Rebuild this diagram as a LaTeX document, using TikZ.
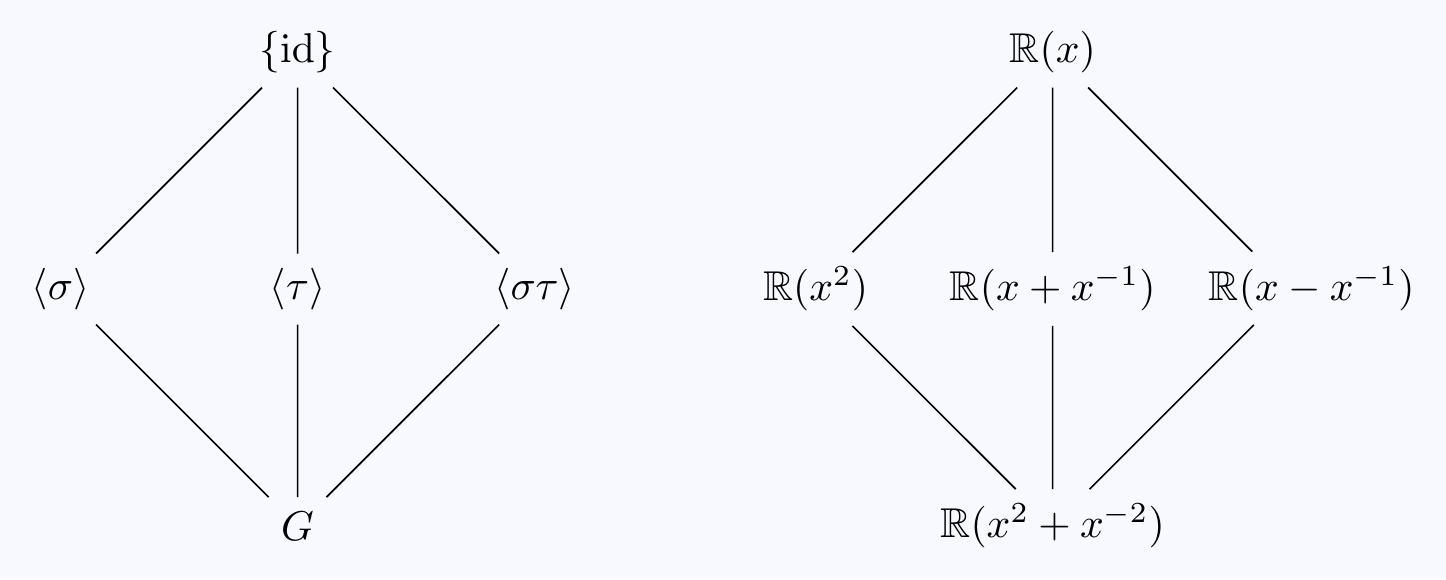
\documentclass[tikz,border=0pt]{standalone}
\usepackage{amsmath}
\usepackage{amssymb}
\definecolor{bg}{HTML}{F8F8FF}

\begin{document}
\begin{tikzpicture}
\useasboundingbox[fill=bg] (-2.511,-4.447) rectangle (9.690,0.439);
% subgroups
\node (id) at (0,0)   {$\{\mathrm{id}\}$};
\node (s)  at (-2,-2) {$\langle\sigma\rangle$};
\node (t)  at (0,-2)  {$\langle\tau\rangle$};
\node (st) at (2,-2)  {$\langle\sigma\tau\rangle$};
\node (G)  at (0,-4)  {$G$};
\draw (id) -- (s) (id) -- (t) (id) -- (st)
      (s) -- (G)  (t) -- (G)  (st) -- (G);
% fixed fields
\scope[xshift=6.371cm]
\node (Rx) at (0,0)   {$\mathbb{R}(x)$};
\node (Rs) at (-2,-2) {$\mathbb{R}(x^2)$};
\node (Rp) at (0,-2)  {$\mathbb{R}(x+x^{-1})$};
\coordinate (m) at (2,-2);
\node (Rm) at ([xshift=0.186cm]m) {$\mathbb{R}(x-x^{-1})$};
\node (Rb) at (0,-4)  {$\mathbb{R}(x^2+x^{-2})$};
\draw (Rx) -- (Rs) (Rx) -- (Rp)
      (Rs) -- (Rb) (Rp) -- (Rb);
\draw[shorten >=12.7pt] (Rx) -- (m);
\draw[shorten <=12.2pt] (m) -- (Rb);
\endscope
\end{tikzpicture}
\end{document}
